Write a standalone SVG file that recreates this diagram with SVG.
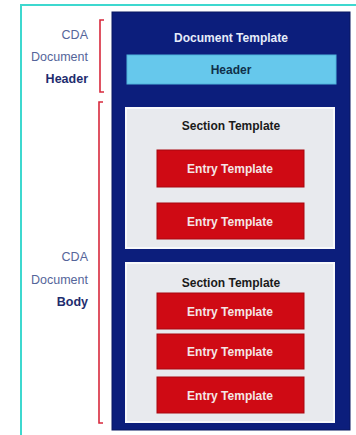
<svg xmlns="http://www.w3.org/2000/svg" width="356" height="435" viewBox="0 0 356 435">
  <style>
    .frame { fill: none; stroke: #3ed8cf; stroke-width: 2; }
    .doc { fill: #0c1e7c; stroke: #081660; stroke-width: 1; }
    .hdr { fill: #66c8ec; stroke: #4fb4dc; stroke-width: 1; }
    .sec { fill: #e8eaee; stroke: #f8f9fb; stroke-width: 2; }
    .entry { fill: #cf0a14; stroke: #a8060e; stroke-width: 1; }
    .brace { fill: none; stroke: #d8283c; stroke-width: 1.6; }
    .t { font-family: "Liberation Sans", Arial, sans-serif; font-weight: bold; font-size: 12px; text-anchor: middle; }
    .lbl { font-family: "Liberation Sans", Arial, sans-serif; font-size: 12.5px; text-anchor: end; fill: #55659a; }
    .lblb { font-weight: bold; fill: #1e2c6e; }
  </style>

  <!-- outer frame -->
  <rect class="frame" x="21" y="5" width="345" height="440"/>

  <!-- side labels and brackets -->
  <g id="header-label">
    <text class="lbl" x="88" y="39">CDA</text>
    <text class="lbl" x="88" y="61">Document</text>
    <text class="lbl lblb" x="88" y="83">Header</text>
    <path class="brace" d="M104,20 H100 V92 H104"/>
  </g>
  <g id="body-label">
    <text class="lbl" x="88" y="261">CDA</text>
    <text class="lbl" x="88" y="284">Document</text>
    <text class="lbl lblb" x="88" y="306">Body</text>
    <path class="brace" d="M103,102 H99 V423 H103"/>
  </g>

  <!-- document template container -->
  <g id="document-template">
    <rect class="doc" x="112" y="12" width="238" height="418"/>
    <text class="t" x="231" y="42" fill="#e6ecfa">Document Template</text>
  </g>

  <g id="header">
    <rect class="hdr" x="127" y="55" width="209" height="29"/>
    <text class="t" x="231" y="74" fill="#10304a">Header</text>
  </g>

  <!-- first section -->
  <g id="section-1">
    <rect class="sec" x="126" y="108" width="208" height="140"/>
    <text class="t" x="231" y="130" fill="#1a1a1a">Section Template</text>
  </g>
  <g id="entry-1-1">
    <rect class="entry" x="157" y="150" width="147" height="37"/>
    <text class="t" x="230" y="173" fill="#f4e6e6">Entry Template</text>
  </g>
  <g id="entry-1-2">
    <rect class="entry" x="157" y="203" width="147" height="36"/>
    <text class="t" x="230" y="226" fill="#f4e6e6">Entry Template</text>
  </g>

  <!-- second section -->
  <g id="section-2">
    <rect class="sec" x="126" y="263" width="208" height="159"/>
    <text class="t" x="231" y="287" fill="#1a1a1a">Section Template</text>
  </g>
  <g id="entry-2-1">
    <rect class="entry" x="157" y="293" width="147" height="36"/>
    <text class="t" x="230" y="316" fill="#f4e6e6">Entry Template</text>
  </g>
  <g id="entry-2-2">
    <rect class="entry" x="157" y="334" width="147" height="35"/>
    <text class="t" x="230" y="356" fill="#f4e6e6">Entry Template</text>
  </g>
  <g id="entry-2-3">
    <rect class="entry" x="157" y="377" width="147" height="36"/>
    <text class="t" x="230" y="400" fill="#f4e6e6">Entry Template</text>
  </g>

  <!-- no connectors in this diagram -->
  <g id="connectors"/>
</svg>
